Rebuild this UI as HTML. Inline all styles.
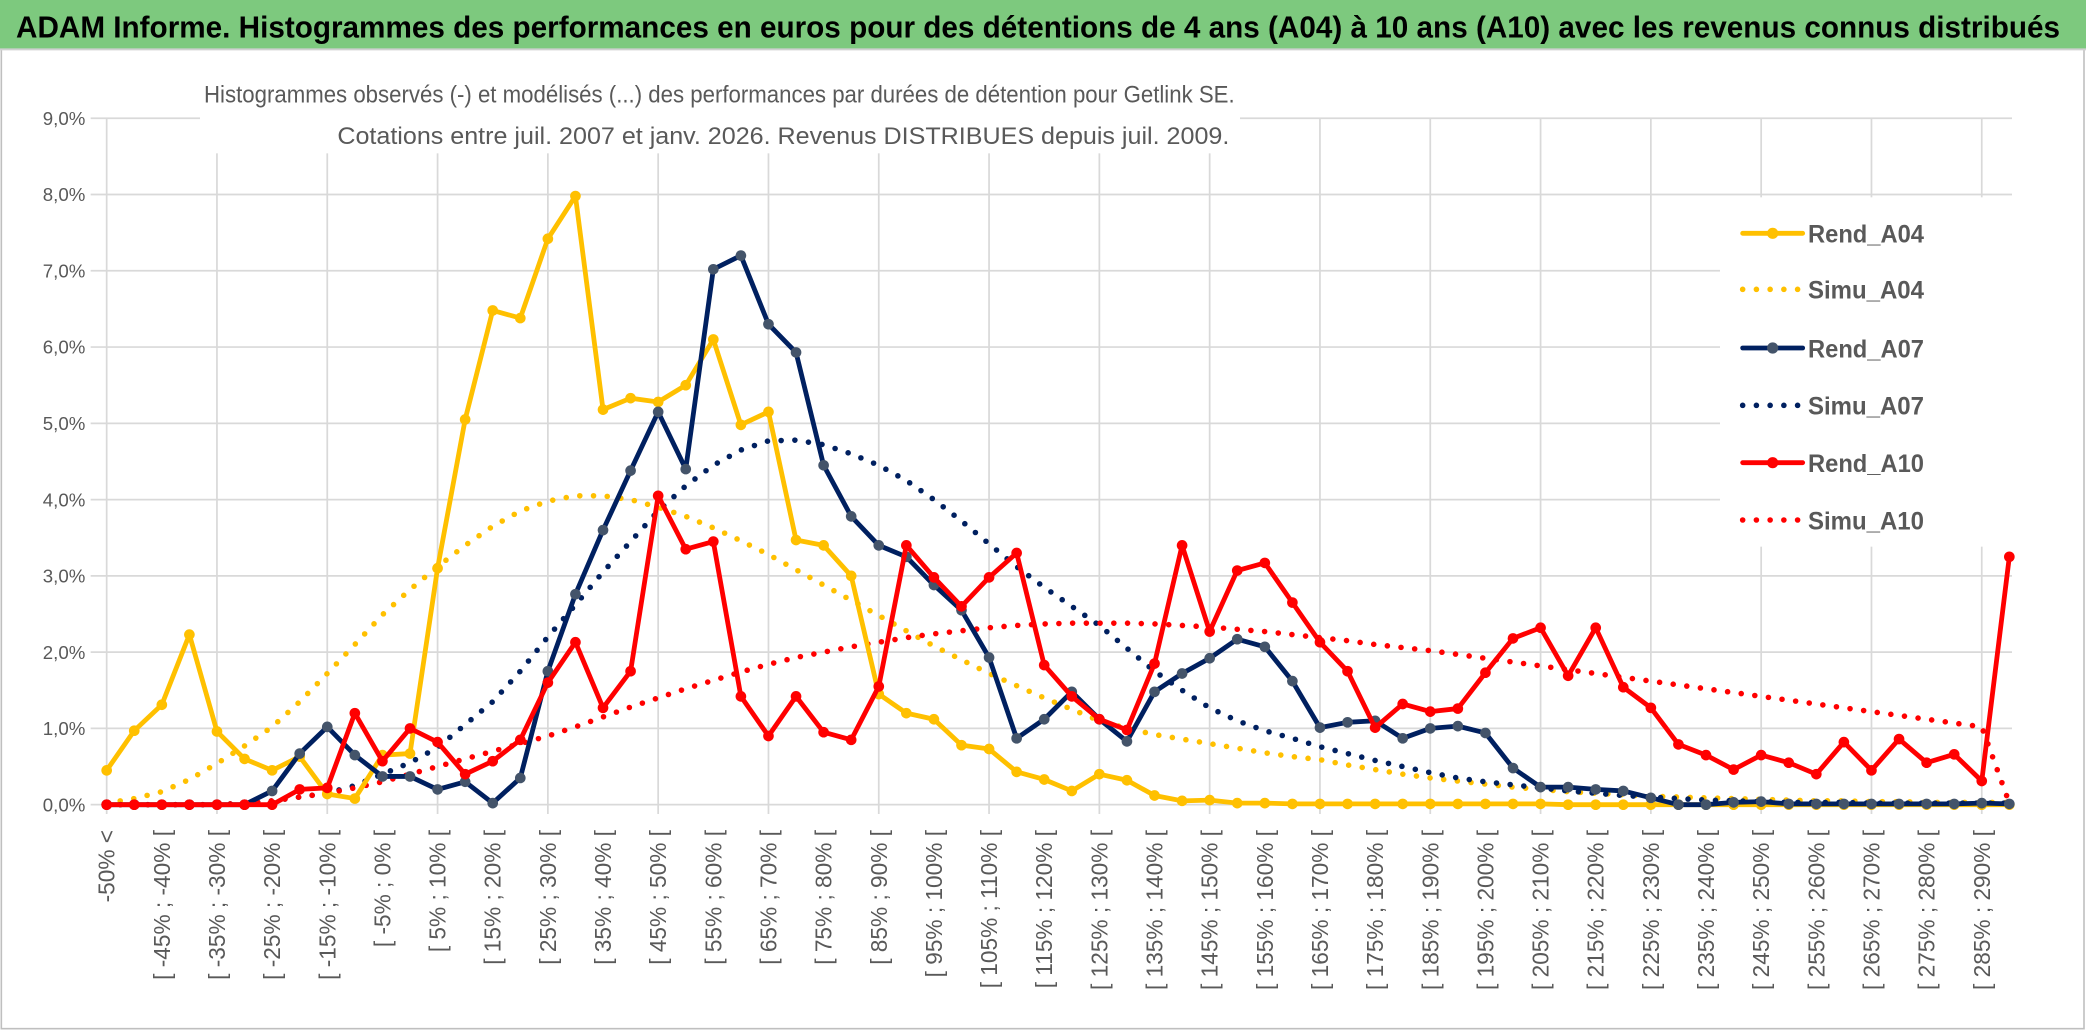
<!DOCTYPE html>
<html><head><meta charset="utf-8"><style>
html,body{margin:0;padding:0;background:#fff;}
svg{display:block;}
text{font-family:"Liberation Sans",sans-serif;}
</style></head><body>
<svg id="chart" width="2086" height="1031" viewBox="0 0 1564.5 773.25" xmlns="http://www.w3.org/2000/svg">
<rect x="0" y="0" width="1564.5" height="773.25" fill="#fff"/>
<rect x="1" y="36" width="1562" height="735.5" fill="#fff" stroke="#bfbfbf" stroke-width="1.2"/>
<rect x="0" y="0" width="1564.5" height="37" fill="#7dc97e"/>
<line x1="0" y1="37" x2="1564.5" y2="37" stroke="#d0d0d0" stroke-width="1.5"/>
<text x="12" y="28" font-size="23" font-weight="bold" fill="#000" textLength="1533" lengthAdjust="spacingAndGlyphs">ADAM Informe. Histogrammes des performances en euros pour des détentions de 4 ans (A04) à 10 ans (A10) avec les revenus connus distribués</text>
<g id="grid"></g>
<rect x="150" y="55" width="780" height="60" fill="#fff"/>
<rect x="1290" y="148" width="225" height="262" fill="#fff"/>
<text x="153" y="77" font-size="18" fill="#595959" textLength="773" lengthAdjust="spacingAndGlyphs">Histogrammes observés (-) et modélisés (...) des performances par durées de détention pour Getlink SE.</text>
<text x="253" y="108" font-size="18" fill="#595959" textLength="669" lengthAdjust="spacingAndGlyphs">Cotations entre juil. 2007 et janv. 2026. Revenus DISTRIBUES depuis juil. 2009.</text>
<g id="axes"></g>
<g id="series"></g>
<g id="legend"></g>
</svg>
<script>
const yTicks=[0,1,2,3,4,5,6,7,8,9];
const rendA04=[0.45,0.97,1.31,2.23,0.96,0.6,0.45,0.63,0.14,0.08,0.65,0.67,3.1,5.05,6.48,6.38,7.42,7.98,5.18,5.33,5.28,5.5,6.1,4.98,5.15,3.47,3.4,3.0,1.45,1.2,1.12,0.78,0.73,0.43,0.33,0.18,0.4,0.32,0.12,0.05,0.06,0.02,0.02,0.01,0.01,0.01,0.01,0.01,0.01,0.01,0.01,0.01,0.01,0,0,0,0,0,0,0,0,0,0,0,0,0,0,0,0,0];
const simuA04=[0.02,0.08,0.17,0.33,0.54,0.77,1.02,1.35,1.72,2.1,2.49,2.82,3.12,3.4,3.65,3.85,3.98,4.05,4.05,4.0,3.9,3.78,3.63,3.46,3.28,3.08,2.88,2.68,2.48,2.28,2.08,1.9,1.72,1.56,1.4,1.25,1.1,1.0,0.92,0.86,0.8,0.74,0.68,0.63,0.59,0.52,0.46,0.4,0.35,0.31,0.27,0.23,0.2,0.17,0.15,0.13,0.11,0.1,0.09,0.08,0.07,0.06,0.05,0.05,0.04,0.04,0.03,0.03,0.03,0.03];
const rendA07=[0,0,0,0,0,0,0.18,0.67,1.02,0.65,0.37,0.37,0.2,0.3,0.02,0.35,1.75,2.76,3.6,4.38,5.15,4.4,7.02,7.2,6.3,5.93,4.45,3.78,3.4,3.25,2.88,2.55,1.93,0.87,1.12,1.48,1.12,0.83,1.48,1.72,1.92,2.17,2.07,1.62,1.01,1.08,1.1,0.87,1.0,1.03,0.94,0.48,0.23,0.23,0.2,0.18,0.09,0,0,0.03,0.04,0.01,0.01,0.01,0.01,0.01,0.01,0.01,0.02,0.01];
const simuA07=[0,0,0,0,0,0.02,0.05,0.1,0.15,0.25,0.4,0.55,0.75,1.05,1.35,1.75,2.2,2.62,3.05,3.45,3.85,4.18,4.45,4.65,4.77,4.78,4.72,4.6,4.45,4.25,4.0,3.72,3.42,3.12,2.85,2.6,2.35,2.05,1.75,1.5,1.27,1.1,0.97,0.87,0.76,0.67,0.58,0.5,0.42,0.35,0.3,0.26,0.22,0.18,0.15,0.12,0.1,0.08,0.06,0.05,0.04,0.03,0.03,0.03,0.02,0.02,0.02,0.02,0.02,0.02];
const rendA10=[0,0,0,0,0,0,0,0.2,0.22,1.2,0.57,1.0,0.82,0.4,0.57,0.85,1.6,2.13,1.27,1.75,4.05,3.35,3.45,1.42,0.9,1.42,0.95,0.85,1.55,3.4,2.98,2.6,2.98,3.3,1.83,1.42,1.12,0.98,1.85,3.4,2.27,3.07,3.17,2.65,2.13,1.75,1.01,1.32,1.22,1.26,1.73,2.18,2.32,1.69,2.32,1.54,1.27,0.79,0.65,0.46,0.65,0.55,0.4,0.82,0.45,0.86,0.55,0.66,0.31,3.25];
const simuA10=[0,0,0,0,0,0.02,0.05,0.1,0.15,0.22,0.3,0.4,0.5,0.6,0.7,0.8,0.9,1.02,1.15,1.28,1.4,1.52,1.63,1.74,1.84,1.93,2.0,2.07,2.13,2.19,2.24,2.28,2.32,2.35,2.37,2.38,2.38,2.38,2.37,2.35,2.33,2.3,2.27,2.23,2.19,2.15,2.1,2.06,2.02,1.97,1.92,1.87,1.82,1.77,1.72,1.67,1.62,1.57,1.52,1.47,1.42,1.37,1.32,1.27,1.22,1.17,1.12,1.07,1.02,0.02];
const categories=["-50% <"];
for(let a=-50;a<295;a+=5){categories.push("[ "+a+"% ; "+(a+5)+"% [");}

const NS="http://www.w3.org/2000/svg";
const X0=80, X1=1507, Y0=603.5, PERPCT=57.2;
const n=categories.length;
function xs(i){return X0+i*(X1-X0)/(n-1);}
function ys(v){return Y0-v*PERPCT;}
function mk(tag,attrs,parent){const e=document.createElementNS(NS,tag);for(const k in attrs)e.setAttribute(k,attrs[k]);parent.appendChild(e);return e;}

const grid=document.getElementById('grid');
yTicks.forEach(t=>{
  const l=mk('line',{x1:68,x2:X1+2,y1:ys(t),y2:ys(t),stroke:'#d9d9d9','stroke-width':1.3},grid);
  
  
});
for(let i=0;i<n;i+=4){
  const l=mk('line',{x1:xs(i),x2:xs(i),y1:ys(9),y2:Y0+7,stroke:'#d9d9d9','stroke-width':1.3},grid);
  
  
}
const axes=document.getElementById('axes');
yTicks.forEach(t=>{
  const tx=mk('text',{x:64,y:ys(t)+5,'font-size':14,fill:'#595959','text-anchor':'end'},axes);
  tx.textContent=t.toFixed(1).replace('.',',')+'%';
  
  
});
categories.forEach((c,i)=>{
  if(i%2)return;
  const x=xs(i)+6, y=Y0+19;
  const tx=mk('text',{x:x,y:y,'font-size':17,fill:'#595959','text-anchor':'end',transform:`rotate(-90 ${x} ${y})`},axes);
  tx.textContent=c;
  
  
});

const ser=document.getElementById('series');
function dotted(vals,color,name){
  const p=mk('polyline',{points:vals.map((v,i)=>xs(i)+','+ys(v)).join(' '),fill:'none',stroke:color,'stroke-width':4.2,'stroke-dasharray':'0 10.3','stroke-linecap':'round'},ser);
  
  
}
function solid(vals,color,mcolor,name){
  const g=mk('g',{},ser);
  
  
  mk('polyline',{points:vals.map((v,i)=>xs(i)+','+ys(v)).join(' '),fill:'none',stroke:color,'stroke-width':3.6,'stroke-linejoin':'round'},g);
  vals.forEach((v,i)=>{
    const c=mk('circle',{cx:xs(i),cy:ys(v),r:4,fill:mcolor},g);
    
    
  });
}
dotted(simuA04,'#ffc000','simu-a04-line');
dotted(simuA07,'#002060','simu-a07-line');
dotted(simuA10,'#ff0000','simu-a10-line');
solid(rendA04,'#ffc000','#ffc000','rend-a04-line');
solid(rendA07,'#002060','#44546a','rend-a07-line');
solid(rendA10,'#ff0000','#ff0000','rend-a10-line');

const leg=document.getElementById('legend');
const legItems=[["Rend_A04",'#ffc000','#ffc000',false],["Simu_A04",'#ffc000',null,true],["Rend_A07",'#002060','#44546a',false],["Simu_A07",'#002060',null,true],["Rend_A10",'#ff0000','#ff0000',false],["Simu_A10",'#ff0000',null,true]];
const legY=[175,217,261,304,347,390];
legItems.forEach((it,k)=>{
  const y=legY[k];
  const g=mk('g',{},leg);
  
  
  if(it[3]){
    mk('line',{x1:1307,x2:1349,y1:y,y2:y,stroke:it[1],'stroke-width':4.2,'stroke-dasharray':'0 10.3','stroke-linecap':'round'},g);
  }else{
    mk('line',{x1:1307,x2:1352,y1:y,y2:y,stroke:it[1],'stroke-width':3.6,'stroke-linecap':'round'},g);
    mk('circle',{cx:1329.5,cy:y,r:4.2,fill:it[2]},g);
  }
  const t=mk('text',{x:1356,y:y+7,'font-size':19,'font-weight':'bold',fill:'#595959',textLength:87,lengthAdjust:'spacingAndGlyphs'},g);
  t.textContent=it[0];
});
</script>
</body></html>
